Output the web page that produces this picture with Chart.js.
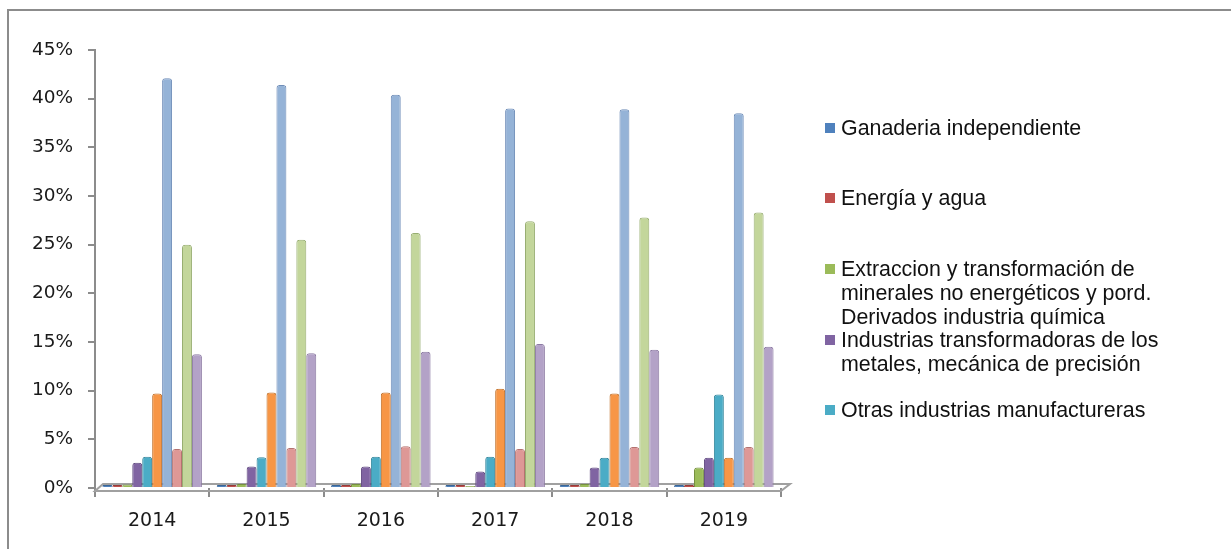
<!DOCTYPE html>
<html>
<head>
<meta charset="utf-8">
<script src="https://cdn.jsdelivr.net/npm/chart.js@4.4.1/dist/chart.umd.min.js"></script>
<style>
  html, body { margin: 0; padding: 0; background: #fff; overflow: hidden; }
  #wrap { position: relative; width: 1231px; height: 549px; overflow: hidden; }
  #frame { position: absolute; left: 7px; top: 9px; width: 1260px; height: 600px;
           border-top: 2px solid #8c8c8c; border-left: 2px solid #8c8c8c; }
  #chart { position: absolute; left: 0; top: 0; }
  #legend { position: absolute; left: 0; top: 0; font-family: "Liberation Sans", Arial, sans-serif;
            font-size: 21.4px; color: #111; }
  .item { position: absolute; left: 825px; width: 350px; line-height: 24px; }
  .sw { position: absolute; left: 0; top: 7px; width: 10px; height: 10px; }
  .tx { margin-left: 16px; }
</style>
</head>
<body>
<div id="wrap">
  <div id="frame"></div>
  <canvas id="chart" width="1231" height="549"></canvas>
  <div id="legend"></div>
</div>
<script>
// Years on the category axis
const years = ['2014', '2015', '2016', '2017', '2018', '2019'];

// Share of each sector per year (%)
const ganaderia      = [0.3, 0.3, 0.3, 0.3, 0.3, 0.3];
const energiaAgua    = [0.3, 0.3, 0.3, 0.3, 0.3, 0.3];
const extraccion     = [0.35, 0.4, 0.4, 0.2, 0.4, 2.1];
const metales        = [2.6, 2.2, 2.2, 1.7, 2.1, 3.1];
const otrasManuf     = [3.2, 3.15, 3.2, 3.2, 3.1, 9.6];
const serie6         = [9.7, 9.8, 9.8, 10.2, 9.7, 3.1];
const serie7         = [42.1, 41.4, 40.4, 39.0, 38.9, 38.5];
const serie8         = [4.0, 4.1, 4.3, 4.0, 4.2, 4.2];
const serie9         = [25.0, 25.5, 26.2, 27.4, 27.8, 28.3];
const serie10        = [13.75, 13.85, 14.0, 14.8, 14.2, 14.5];

// Series names (only the first five appear in the legend)
const seriesNames = [
  'Ganaderia independiente',
  'Energía y agua',
  'Extraccion y transformación de minerales no energéticos y pord. Derivados industria química',
  'Industrias transformadoras de los metales, mecánica de precisión',
  'Otras industrias manufactureras',
  'Serie 6', 'Serie 7', 'Serie 8', 'Serie 9', 'Serie 10'
];

// Y axis tick settings (%)
const yMax = 45;
const yStep = 5;

const seriesValues = [ganaderia, energiaAgua, extraccion, metales, otrasManuf,
                      serie6, serie7, serie8, serie9, serie10];
const fillColors = ['#4F81BD', '#C0504D', '#9BBB59', '#8064A2', '#4BACC6',
                    '#F79646', '#95B3D7', '#DE9896', '#C3D69B', '#B3A2C7'];
const edgeColors = ['#3A6696', '#963C3A', '#769040', '#604A80', '#33869C',
                    '#C0702A', '#6F8DB8', '#B47270', '#98AE72', '#8C7AA3'];
const legendCount = 5;

// Floor slab under the bars, drawn from the scales
const floorPlugin = {
  id: 'floor',
  beforeDatasetsDraw(chart) {
    const { ctx } = chart;
    const xs = chart.scales.x, ys = chart.scales.y;
    const y0 = ys.getPixelForValue(0);
    const xl = xs.left, xr = xs.right;
    ctx.save();
    ctx.strokeStyle = '#a0a0a0';
    ctx.lineWidth = 2;
    ctx.beginPath();
    ctx.moveTo(xl, y0 + 3);
    ctx.lineTo(xr, y0 + 3);
    ctx.lineTo(xr + 9, y0 - 4);
    ctx.lineTo(xl + 8, y0 - 4);
    ctx.closePath();
    ctx.stroke();
    ctx.restore();
  }
};

const ctx = document.getElementById('chart').getContext('2d');
const chart = new Chart(ctx, {
  type: 'bar',
  data: {
    labels: years,
    datasets: seriesValues.map((vals, i) => ({
      label: seriesNames[i],
      data: vals,
      backgroundColor: fillColors[i],
      borderColor: edgeColors[i],
      borderWidth: 1,
      borderSkipped: 'bottom',
      borderRadius: { topLeft: 3, topRight: 3 },
      categoryPercentage: 0.87,
      barPercentage: 1.0
    }))
  },
  options: {
    responsive: false,
    animation: false,
    devicePixelRatio: 1,
    layout: { padding: { top: 50, right: 450, bottom: 0, left: 0 } },
    plugins: {
      legend: { display: false },
      tooltip: { enabled: false }
    },
    scales: {
      x: {
        afterFit(scale) { scale.height = 61; },
        grid: { display: true, offset: true, drawOnChartArea: false, tickLength: 9,
                color: '#8c8c8c', lineWidth: 2 },
        border: { display: false },
        ticks: { font: { family: 'DejaVu Sans', size: 19 }, color: '#1a1a1a', padding: 13 }
      },
      y: {
        min: 0,
        max: yMax,
        afterFit(scale) { scale.width = 95; },
        grid: { display: true, drawOnChartArea: false, tickLength: 7,
                color: '#8c8c8c', lineWidth: 2 },
        border: { display: true, color: '#8c8c8c', width: 2 },
        ticks: { stepSize: yStep, padding: 15, color: '#1a1a1a',
                 font: { family: 'DejaVu Sans', size: 18.5 },
                 callback: v => v + '%' }
      }
    }
  },
  plugins: [floorPlugin]
});

// Legend beside the plot, built from the chart's own datasets
const legendTops = [116, 186, 257, 328, 398];
const legendEl = document.getElementById('legend');
chart.data.datasets.slice(0, legendCount).forEach((ds, i) => {
  const item = document.createElement('div');
  item.className = 'item';
  item.style.top = legendTops[i] + 'px';
  const sw = document.createElement('div');
  sw.className = 'sw';
  sw.style.background = ds.backgroundColor;
  const tx = document.createElement('div');
  tx.className = 'tx';
  tx.textContent = ds.label;
  item.appendChild(sw);
  item.appendChild(tx);
  legendEl.appendChild(item);
});
</script>
</body>
</html>
